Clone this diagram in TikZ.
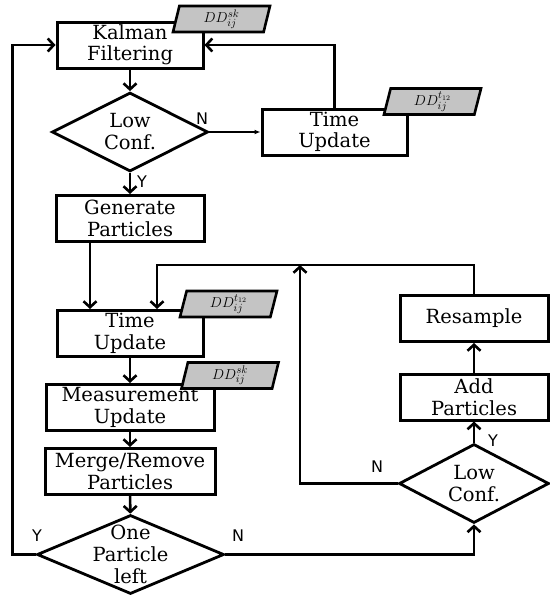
\documentclass[tikz,border=0pt]{standalone}
\usepackage{fontspec}
\setmainfont{DejaVu Serif}
\newfontfamily\yesnofont{DejaVu Sans}
\usetikzlibrary{shapes.geometric,arrows.meta}

\begin{document}
\begin{tikzpicture}[x=1pt,y=-1pt,line width=2.6pt,>={Straight Barb[length=6pt,width=13pt]}]
  \tikzstyle{block}=[rectangle,draw,line width=3pt,align=center,minimum height=46pt,inner sep=0pt,font=\fontsize{19.5}{21.5}\selectfont]
  \tikzstyle{decision}=[diamond,draw,line width=2.8pt,inner sep=0pt]
  \tikzstyle{dtext}=[align=center,inner sep=0pt,font=\fontsize{19.5}{22}\selectfont]
  \tikzstyle{datain}=[trapezium,trapezium left angle=71,trapezium right angle=109,trapezium stretches body,draw,line width=2.6pt,fill=black!23,minimum width=97pt,minimum height=26pt,inner sep=0pt,font=\fontsize{15}{15}\selectfont]
  \tikzstyle{yn}=[inner sep=0pt,font=\yesnofont\fontsize{16}{16}\selectfont]
  \useasboundingbox (0,0) rectangle (549,597);

  \foreach \name/\x/\y/\w/\text in {KF/130/45/146/{Kalman\\Filtering}, TU-1/334.5/132/145/{Time\\Update}, GP/130/218.5/148/{Generate\\Particles}, TU-2/130/333.5/146/{Time\\Update}, MU/130/407.5/168/{Measurement\\Update}, MR/130/471.5/170/{Merge/Remove\\Particles}, RS/474/318.5/148/{Resample}, AP/474/397/148/{Add\\Particles}}
    \node[block,minimum width=\w pt] (\name) at (\x,\y) {\text};

  \foreach \name/\x/\y/\w/\h/\text in {LC-1/130/132/156/79/{Low\\Conf.}, OP/130.5/554.5/187/79/{One\\Particle\\left}, LC-2/474/483.5/150/79/{Low\\Conf.}}
    \node[decision,minimum width=\w pt,minimum height=\h pt,label={[dtext]center:\text}] (\name) at (\x,\y) {};

  \foreach \name/\x/\y/\text in {DS-1/221.5/19/sk, DT-1/432.5/101.5/t_{12}, DT-2/228.5/304/t_{12}, DS-2/230/375.5/sk}
    \node[datain] (\name) at (\x,\y) {$DD_{ij}^{\text}$};

  \foreach \from/\to in {KF/LC-1, LC-1/GP, TU-2/MU, MU/MR, MR/OP, LC-2/AP, AP/RS}
    { \draw[->] (\from) -- (\to); }

  \draw[-{Latex[length=6pt,width=5pt]},line width=1.4pt] (LC-1) -- (TU-1);
  \draw[->] (TU-1) |- (KF);
  \draw[->] ([xshift=-40pt]GP.south) -- ([xshift=-40pt]TU-2.north);
  \coordinate (loop) at (300,265);
  \draw[->] (RS) |- (loop) -| ([xshift=27pt]TU-2.north);
  \draw[->] (LC-2) -| (loop);
  \draw[->] (OP) -| (LC-2);
  \draw[->] (OP.west) -- ++(-23,0) |- (KF);

  \foreach \name/\x/\y/\text in {N-1/202/119/N, Y-1/142/182/Y, Y-2/37/536/Y, N-2/238/536/N, Y-3/493/441/Y, N-3/377/467/N}
    \node[yn] (\name) at (\x,\y) {\text};
\end{tikzpicture}
\end{document}
